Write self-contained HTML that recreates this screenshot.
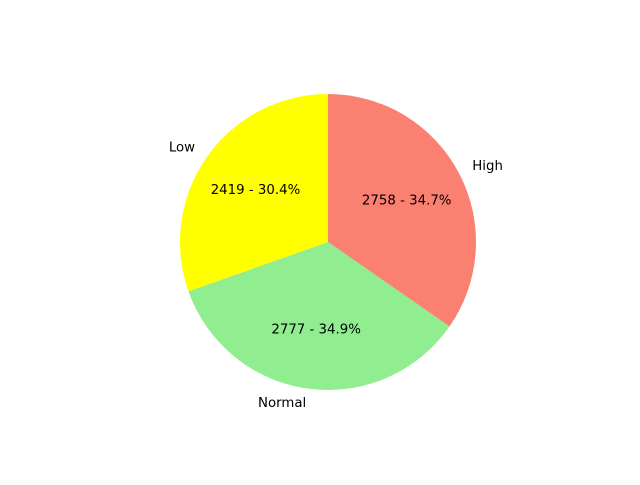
<!DOCTYPE html>
<html><head><meta charset="utf-8">
<style>
html,body{margin:0;padding:0;background:#fff;}
svg text{font-family:"DejaVu Sans","Liberation Sans",sans-serif;font-size:13.33px;fill:#000;}
</style></head>
<body>
<svg id="chart" width="640" height="480" viewBox="0 0 640 480"></svg>
<script>
const categories = ["High", "Normal", "Low"];
const counts = [2758, 2777, 2419];
const colors = ["#fa8072", "#90ee90", "#ffff00"];

const svg = document.getElementById('chart');
const NS = 'http://www.w3.org/2000/svg';
const cx = 328, cy = 242, R = 148;
const total = counts.reduce((a, b) => a + b, 0);
function pt(deg, r) {
  const a = deg * Math.PI / 180;
  return [cx + r * Math.cos(a), cy - r * Math.sin(a)];
}
let start = 90;
counts.forEach((v, i) => {
  const sweep = v / total * 360;
  const end = start - sweep;
  const p1 = pt(start, R), p2 = pt(end, R);
  const large = sweep > 180 ? 1 : 0;
  const path = document.createElementNS(NS, 'path');
  path.setAttribute('d', `M${cx},${cy} L${p1[0]},${p1[1]} A${R},${R} 0 ${large} 1 ${p2[0]},${p2[1]} Z`);
  path.setAttribute('fill', colors[i]);
  
  
  svg.appendChild(path);

  const mid = start - sweep / 2;
  const lp = pt(mid, R * 1.1);
  const cosm = Math.cos(mid * Math.PI / 180);
  const lab = document.createElementNS(NS, 'text');
  lab.setAttribute('x', lp[0]);
  lab.setAttribute('y', lp[1]);
  lab.setAttribute('dominant-baseline', 'central');
  lab.setAttribute('text-anchor', cosm >= 0 ? 'start' : 'end');
  lab.textContent = categories[i];
  
  
  svg.appendChild(lab);

  const pp = pt(mid, R * 0.6);
  const pct = document.createElementNS(NS, 'text');
  pct.setAttribute('x', pp[0]);
  pct.setAttribute('y', pp[1]);
  pct.setAttribute('dominant-baseline', 'central');
  pct.setAttribute('text-anchor', 'middle');
  pct.textContent = v + ' - ' + (v / total * 100).toFixed(1) + '%';
  
  
  svg.appendChild(pct);

  start = end;
});
</script>
</body></html>
